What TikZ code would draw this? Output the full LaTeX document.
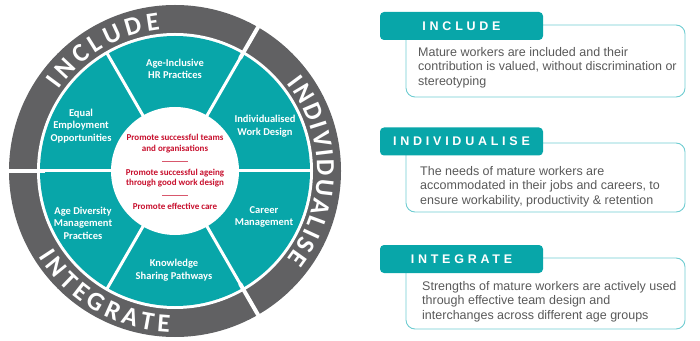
\documentclass[tikz,border=0pt]{standalone}
\usepackage{fontspec}
\setmainfont{Liberation Sans}
\newfontfamily\wheelfont{Carlito}
\newfontfamily\spacedfont[LetterSpace=30]{Liberation Sans}
\usetikzlibrary{decorations.text}

\definecolor{wheelteal}{HTML}{08A6A9}
\definecolor{ringgray}{HTML}{616163}
\definecolor{boxline}{HTML}{6ECCD1}
\definecolor{aimred}{HTML}{C8102E}
\definecolor{bodygray}{HTML}{595959}

\begin{document}
\begin{tikzpicture}[x=1pt,y=1pt,
    sectorlabel/.style={text=white, align=center, inner sep=0pt,
      font=\wheelfont\bfseries\fontsize{10.5}{12.5}\selectfont},
    aimlabel/.style={text=aimred, align=center, inner sep=0pt,
      font=\wheelfont\bfseries\fontsize{9}{10.5}\selectfont},
    ringtext/.style={decorate, decoration={text along path,
      text align={fit to path}, text color=white,
      text={|\wheelfont\bfseries\fontsize{26}{26}\selectfont|#1}}},
    headbox/.style={fill=wheelteal, rounded corners=4pt, minimum width=163pt,
      minimum height=28pt, inner sep=0pt, text=white,
      font=\spacedfont\bfseries\fontsize{12.5}{14}\selectfont},
    panelbox/.style={draw=boxline, line width=0.9pt, rounded corners=9pt},
    blurb/.style={text=bodygray, align=left, anchor=north west, inner sep=0pt,
      font=\fontsize{12.5}{14.6}\selectfont}]
  % Bounding box
  \useasboundingbox (0,0) rectangle (700,340);

  % Wheel
  \coordinate (hub) at (175,169);
  \begin{scope}[shift={(hub)}]
    \fill[ringgray] (0,0) circle (166);
    \fill[white] (0,0) circle (138);
    \fill[wheelteal] (0,0) circle (135);
    \foreach \a in {0,60,...,300}
      \draw[white, line width=3pt] (\a:60) -- (\a:137);
    \foreach \a in {60,180,300}
      \draw[white, line width=4pt] (\a:130) -- (\a:168);
    \fill[white] (0,0) circle (64);

    % Ring labels
    \path[ringtext=INCLUDE] (145:142) arc[start angle=145, end angle=96, radius=142];
    \path[ringtext=INDIVIDUALISE] (38:142) arc[start angle=38, end angle=-38, radius=142];
    \path[ringtext=INTEGRATE] (212:161) arc[start angle=212, end angle=268, radius=161];

    % Sector labels
    \node[sectorlabel] (hr)        at (0,102)   {Age-Inclusive\\HR Practices};
    \node[sectorlabel] (design)    at (90,45)   {Individualised\\Work Design};
    \node[sectorlabel] (career)    at (89,-46)  {Career\\Management};
    \node[sectorlabel] (knowledge) at (-1,-99)  {Knowledge\\Sharing Pathways};
    \node[sectorlabel] (diversity) at (-92,-52) {Age Diversity\\Management\\Practices};
    \node[sectorlabel] (equal)     at (-94,45)  {Equal\\Employment\\Opportunities};

    % Aims in the centre
    \node[aimlabel] (teams)  at (0,27.5) {Promote successful teams\\and organisations};
    \node[aimlabel] (ageing) at (0,-7)   {Promote successful ageing\\through good work design};
    \node[aimlabel] (care)   at (0,-35)  {Promote effective care};
    \draw[aimred!70, line width=0.5pt] (-13,10) -- (13,10);
    \draw[aimred!70, line width=0.5pt] (-13,-24) -- (13,-24);
  \end{scope}

  % Include panel
  \draw[panelbox] (406,315) rectangle (685,243);
  \node[headbox] (inclhead) at (461.5,314) {INCLUDE};
  \node[blurb] (incltext) at (418,293) {Mature workers are included and their\\contribution is valued, without discrimination or\\stereotyping};

  % Individualise panel
  \draw[panelbox] (406,197) rectangle (685,128);
  \node[headbox] (indhead) at (461.5,198.5) {INDIVIDUALISE};
  \node[blurb] (indtext) at (420,174) {The needs of mature workers are\\accommodated in their jobs and careers, to\\ensure workability, productivity \& retention};

  % Integrate panel
  \draw[panelbox] (406,82) rectangle (685,11);
  \node[headbox] (inthead) at (461.5,81) {INTEGRATE};
  \node[blurb] (inttext) at (422,59) {Strengths of mature workers are actively used\\through effective team design and\\interchanges across different age groups};
\end{tikzpicture}
\end{document}
